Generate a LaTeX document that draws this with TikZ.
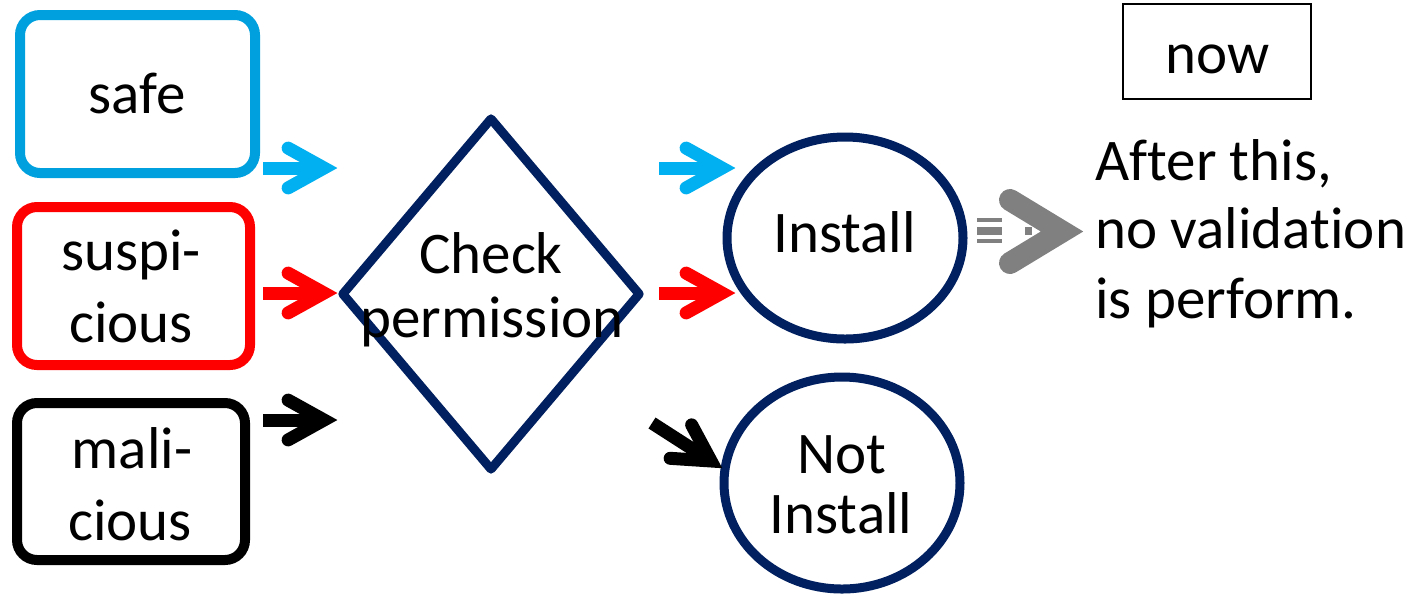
\documentclass[tikz,border=0pt]{standalone}
\usepackage{fontspec}
\setmainfont{Carlito}[Ligatures=NoCommon]
\usetikzlibrary{shapes.geometric,calc}
\definecolor{boxblue}{RGB}{0,160,222}
\definecolor{arrblue}{RGB}{0,176,240}
\definecolor{navy}{RGB}{0,32,96}
\definecolor{arrgray}{RGB}{128,128,128}
\tikzset{
  catbox/.style={draw, rounded corners=10pt, line width=5pt, inner sep=0pt},
  navyshape/.style={draw=navy, line width=4.5pt, inner sep=0pt, line join=round},
  txt/.style={anchor=base, inner sep=0pt, font=\fontsize{29.5}{35}\selectfont},
  shaft/.style={line width=6.5pt, line cap=butt},
  barb/.style={line width=6.5pt, line cap=round, line join=miter},
}
\newcommand\chevarrow[3]{%
  \coordinate (#2v) at ($(#3)!6.5pt!(#2)$);
  \draw[shaft,#1] (#2) -- (#2v);
  \draw[barb,#1] ($(#2v)!20.5pt!29:(#2)$) -- (#2v) -- ($(#2v)!20.5pt!-29:(#2)$);
}
\begin{document}
\begin{tikzpicture}[x=0.5pt,y=-0.5pt]
\useasboundingbox (0,0) rectangle (1407,596);

% category boxes
\node[catbox, draw=boxblue, minimum width=117.5pt, minimum height=79pt] (safe) at (137.5,94) {};
\node[catbox, draw=red, minimum width=116.5pt, minimum height=79pt] (susp) at (133.5,286) {};
\node[catbox, draw=black, minimum width=114pt, minimum height=78.5pt] (mal) at (131,481.5) {};
\node[txt] (tsafe) at (137,113) {safe};
\node[txt] (tsusp1) at (131,270) {suspi-};
\node[txt] (tsusp2) at (131,342) {cious};
\node[txt] (tmal1) at (132,468) {mali-};
\node[txt] (tmal2) at (130,540) {cious};

% decision
\node[navyshape, diamond, minimum width=150pt, minimum height=177pt] (check) at (491,294) {};
\node[txt] (tcheck1) at (491,273) {Check};
\node[txt] (tcheck2) at (492,337) {permission};

% outcomes
\node[navyshape, ellipse, minimum width=118pt, minimum height=101pt] (inst) at (845,238) {};
\node[txt] (tinst) at (844.5,252) {Install};
\node[navyshape, ellipse, minimum width=118pt, minimum height=106pt] (notinst) at (842,483) {};
\node[txt] (tnot1) at (842,473) {Not};
\node[txt] (tnot2) at (841,533) {Install};

% now box and note
\node[draw=black, line width=1pt, minimum width=94pt, minimum height=47.5pt, inner sep=0pt] (now) at (1217,51.5) {};
\node[txt] (tnow) at (1217.5,73) {now};
\node[txt, anchor=base west] (n1) at (1095,180) {After this,};
\node[txt, anchor=base west] (n2) at (1095,248) {no validation};
\node[txt, anchor=base west] (n3) at (1095,318) {is perform.};

% arrows
\coordinate (s1) at (263,168); \coordinate (t1) at (337,168);
\coordinate (s2) at (263,293); \coordinate (t2) at (337,293);
\coordinate (s3) at (263,420); \coordinate (t3) at (337,420);
\coordinate (s4) at (659,168); \coordinate (t4) at (735,168);
\coordinate (s5) at (659,293); \coordinate (t5) at (735,293);
\coordinate (s6) at (652,423); \coordinate (t6) at (722,468);
\chevarrow{arrblue}{s1}{t1}
\chevarrow{red}{s2}{t2}
\chevarrow{black}{s3}{t3}
\chevarrow{arrblue}{s4}{t4}
\chevarrow{red}{s5}{t5}
\chevarrow{black}{s6}{t6}

% gray arrow
\coordinate (ga) at (1010,200);
\coordinate (gv) at (1062,231.5);
\coordinate (gb) at (1010,263);
\draw[arrgray, line width=2pt] (977,220) -- (1002,220);
\draw[arrgray, line width=4pt] (977,230.5) -- (1002,230.5);
\draw[arrgray, line width=2pt] (977,241) -- (1002,241);
\draw[arrgray, line width=4pt] (1025,231) -- (1032,231);
\draw[arrgray, line width=11pt, line cap=round, line join=miter] (ga) -- (gv) -- (gb);
\end{tikzpicture}
\end{document}
